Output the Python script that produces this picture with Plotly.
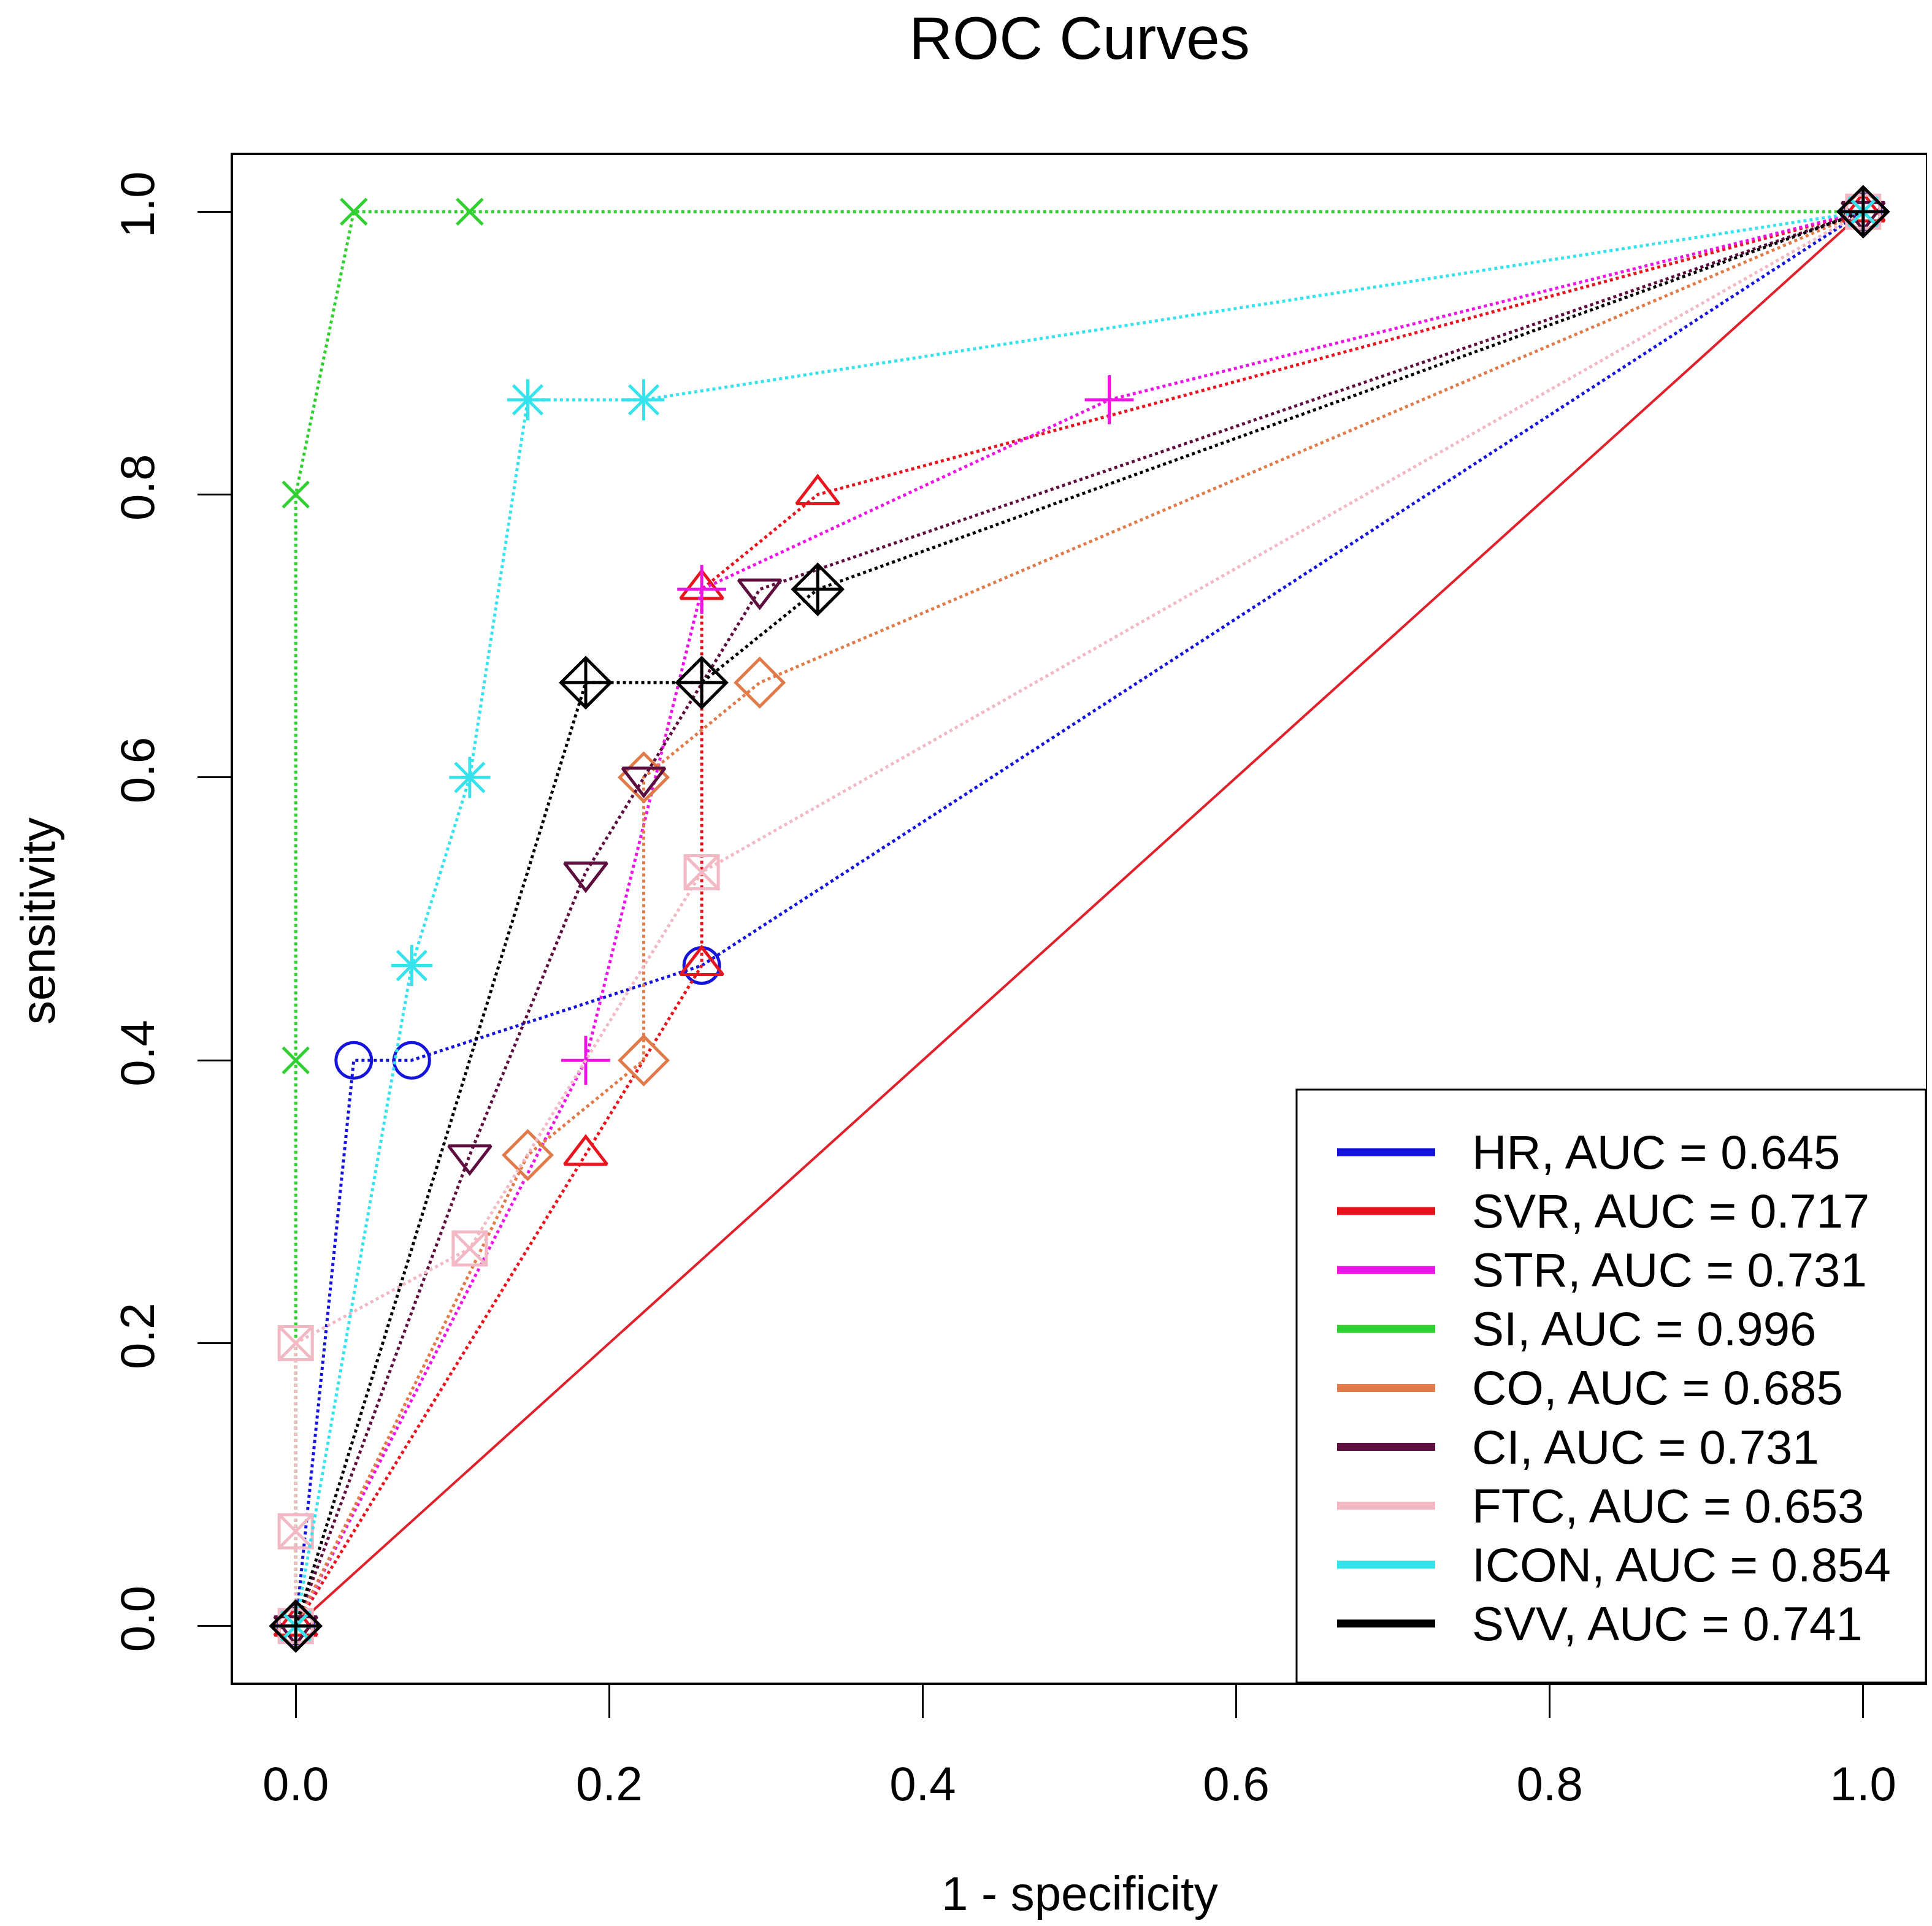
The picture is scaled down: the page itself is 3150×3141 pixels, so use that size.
import plotly.graph_objects as go

# ROC points (1 - specificity, sensitivity)
names = ["HR", "SVR", "STR", "SI", "CO", "CI", "FTC", "ICON", "SVV"]
auc = [0.645, 0.717, 0.731, 0.996, 0.685, 0.731, 0.653, 0.854, 0.741]

hr_x = [0, 0.037, 0.074, 0.259, 1]
hr_y = [0, 0.4, 0.4, 0.467, 1]
svr_x = [0, 0.185, 0.259, 0.259, 0.333, 1]
svr_y = [0, 0.333, 0.467, 0.733, 0.8, 1]
str_x = [0, 0.185, 0.259, 0.519, 1]
str_y = [0, 0.4, 0.733, 0.867, 1]
si_x = [0, 0, 0, 0.037, 0.111, 1]
si_y = [0, 0.4, 0.8, 1, 1, 1]
co_x = [0, 0.148, 0.222, 0.222, 0.296, 1]
co_y = [0, 0.333, 0.4, 0.6, 0.667, 1]
ci_x = [0, 0.111, 0.185, 0.222, 0.296, 1]
ci_y = [0, 0.333, 0.533, 0.6, 0.733, 1]
ftc_x = [0, 0, 0, 0.111, 0.259, 1]
ftc_y = [0, 0.067, 0.2, 0.267, 0.533, 1]
icon_x = [0, 0.074, 0.111, 0.148, 0.222, 1]
icon_y = [0, 0.467, 0.6, 0.867, 0.867, 1]
svv_x = [0, 0.185, 0.259, 0.333, 1]
svv_y = [0, 0.667, 0.667, 0.733, 1]

xs = [hr_x, svr_x, str_x, si_x, co_x, ci_x, ftc_x, icon_x, svv_x]
ys = [hr_y, svr_y, str_y, si_y, co_y, ci_y, ftc_y, icon_y, svv_y]

colors = ["#1414DC", "#E8141E", "#EE14E6", "#30D030", "#E07A48",
          "#5E0E3E", "#F2B8C4", "#36E2EC", "#000000"]
symbols = ["circle-open", "triangle-up-open", "cross-thin-open", "x-thin-open",
           "diamond-open", "triangle-down-open", "square-x-open",
           "asterisk-open", "diamond-cross-open"]
sizes = [58, 60, 57, 42, 60, 60, 54, 56, 62]

W, H = 3150, 3141
L, R, T, B = 372, 3132, 245, 2736   # plot box in pixels
FONT = "Liberation Sans"

fig = go.Figure()

# chance line
fig.add_trace(go.Scatter(x=[0, 1], y=[0, 1], mode="lines",
                         line=dict(color="#E0202A", width=4), showlegend=False))

for i in range(len(names)):
    fig.add_trace(go.Scatter(
        x=xs[i], y=ys[i], mode="lines+markers", name=names[i],
        line=dict(color=colors[i], width=5, dash="dot"),
        marker=dict(symbol=symbols[i], size=sizes[i], color=colors[i],
                    line=dict(color=colors[i], width=5)),
        showlegend=False))

# legend box drawn in the lower right corner like base R's legend()
pw, ph = R - L, B - T
def px(xp):
    return (xp - L) / pw
def py(yp):
    return (B - yp) / ph

shapes = [dict(type="rect", xref="paper", yref="paper",
               x0=px(2106), x1=1, y0=0, y1=py(1769),
               line=dict(color="black", width=3), fillcolor="white", layer="above")]
annotations = []
row0, step = 1871, 96.1
for i, nm in enumerate(names):
    yy = py(row0 + step * i)
    shapes.append(dict(type="line", xref="paper", yref="paper",
                       x0=px(2172), x1=px(2332), y0=yy, y1=yy,
                       line=dict(color=colors[i], width=13), layer="above"))
    annotations.append(dict(xref="paper", yref="paper", x=px(2390), y=yy,
                            text=f"{nm}, AUC = {auc[i]:.3f}", showarrow=False,
                            xanchor="left", yanchor="middle",
                            font=dict(family=FONT, size=78, color="black")))

# axis titles
annotations.append(dict(xref="paper", yref="paper", x=0.5, y=0, yshift=-(3080 - B),
                        text="1 - specificity", showarrow=False, yanchor="middle",
                        font=dict(family=FONT, size=78, color="black")))
annotations.append(dict(xref="paper", yref="paper", x=0, y=0.5, xshift=-(L - 54),
                        yshift=(B + T) / 2 - 1494,
                        text="sensitivity", showarrow=False, textangle=-90,
                        xanchor="center", font=dict(family=FONT, size=78, color="black")))

axis_common = dict(range=[-0.04, 1.04], tickvals=[0, 0.2, 0.4, 0.6, 0.8, 1.0],
                   ticktext=["0.0", "0.2", "0.4", "0.6", "0.8", "1.0"],
                   showgrid=False, zeroline=False, showline=True, mirror=True,
                   linecolor="black", linewidth=4, ticks="outside", ticklen=54,
                   tickwidth=3, tickcolor="black",
                   tickfont=dict(family=FONT, size=78, color="black"))

fig.update_layout(
    width=W, height=H,
    margin=dict(l=L, r=W - R, t=T, b=H - B),
    paper_bgcolor="white", plot_bgcolor="white",
    title=dict(text="ROC Curves", x=(L + R) / 2 / W, xanchor="center",
               y=1 - 54 / H, yanchor="middle", yref="container",
               font=dict(family=FONT, size=98, color="black")),
    xaxis=dict(**axis_common, ticklabelstandoff=40),
    yaxis=dict(**axis_common, tickangle=-90, ticklabelstandoff=40),
    shapes=shapes, annotations=annotations,
    showlegend=False,
)

fig.write_html("out.html")
